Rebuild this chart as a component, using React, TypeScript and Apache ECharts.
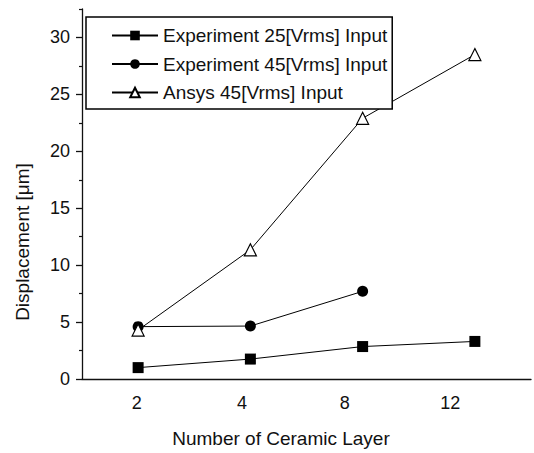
import React, { useEffect, useRef } from 'react';
import * as echarts from 'echarts';

const categories = ['2', '4', '8', '12'];
const seriesNames = ['Experiment 25[Vrms] Input', 'Experiment 45[Vrms] Input', 'Ansys 45[Vrms] Input'];
const exp25 = [1.0, 1.75, 2.85, 3.3];
const exp45 = [4.6, 4.65, 7.7, null];
const ansys45 = [4.3, 11.35, 22.9, 28.5];
const yMajorTicks = [0, 5, 10, 15, 20, 25, 30];
const yMinorTicks = [2.5, 7.5, 12.5, 17.5, 22.5, 27.5, 32.5];
const yMax = 32.5;
const xAxisTitle = 'Number of Ceramic Layer';
const yAxisTitle = 'Displacement [μm]';

const FONT = '"Liberation Sans", Arial, sans-serif';
const INK = '#111';
const labelShift = [3, 17, 36, 49];

export default function App() {
  const ref = useRef<HTMLDivElement>(null);
  useEffect(() => {
    if (!ref.current) return;
    const chart = echarts.init(ref.current, undefined, { renderer: 'svg' });
    const rich: Record<string, any> = {};
    labelShift.forEach((p, i) => {
      rich['s' + i] = { fontSize: 18, fontFamily: FONT, color: INK, padding: [0, p, 0, 0] };
    });
    const lineStyle = { color: '#000', width: 1 };
    chart.setOption({
      animation: false,
      backgroundColor: '#fff',
      textStyle: { fontFamily: FONT, color: INK },
      grid: { left: 82, right: 3, top: 9, bottom: 65 },
      legend: {
        data: seriesNames,
        orient: 'vertical',
        left: 86,
        top: 17,
        itemWidth: 46,
        itemHeight: 12,
        itemGap: 9.5,
        padding: [9, 5, 7, 25],
        backgroundColor: '#fff',
        borderColor: '#000',
        borderWidth: 1.5,
        selectedMode: false,
        textStyle: { fontSize: 19, fontFamily: FONT, color: INK, lineHeight: 19 },
      },
      xAxis: [
        {
          type: 'category',
          data: categories,
          boundaryGap: true,
          axisLine: { lineStyle: { color: INK, width: 1.3 } },
          axisTick: { alignWithLabel: true, length: 8, lineStyle: { color: INK, width: 1.3 } },
          axisLabel: {
            margin: 15,
            fontSize: 18,
            color: INK,
            formatter: (v: string, i: number) => `{s${i}|${v}}`,
            rich,
          },
          name: xAxisTitle,
          nameLocation: 'middle',
          nameGap: 50,
          nameTextStyle: { fontSize: 19, color: INK, fontFamily: FONT, padding: [0, 51, 0, 0] },
        },
        {
          type: 'category',
          data: categories,
          position: 'bottom',
          boundaryGap: true,
          axisLine: { show: false },
          axisTick: { alignWithLabel: false, length: 4, lineStyle: { color: INK, width: 1.2 } },
          axisLabel: { show: false },
        },
      ],
      yAxis: [
        {
          type: 'value',
          min: 0,
          max: yMax,
          axisLine: { show: true, lineStyle: { color: INK, width: 1.3 } },
          axisTick: { show: true, length: 6, customValues: yMajorTicks, lineStyle: { color: INK, width: 1.3 } },
          axisLabel: { customValues: yMajorTicks, margin: 12, fontSize: 18, color: INK },
          splitLine: { show: false },
          name: yAxisTitle,
          nameLocation: 'middle',
          nameGap: 50,
          nameTextStyle: { fontSize: 19, color: INK, fontFamily: FONT, padding: [0, 96, 0, 0] },
        },
        {
          type: 'value',
          min: 0,
          max: yMax,
          position: 'left',
          axisLine: { show: false },
          axisTick: { show: true, length: 3, customValues: yMinorTicks, lineStyle: { color: INK, width: 1.2 } },
          axisLabel: { show: false },
          splitLine: { show: false },
        },
      ],
      series: [
        {
          name: seriesNames[0],
          type: 'line',
          data: exp25,
          symbol: 'rect',
          symbolSize: 11,
          itemStyle: { color: '#000' },
          lineStyle,
        },
        {
          name: seriesNames[1],
          type: 'line',
          data: exp45,
          symbol: 'circle',
          symbolSize: 11,
          itemStyle: { color: '#000' },
          lineStyle,
        },
        {
          name: seriesNames[2],
          type: 'line',
          data: ansys45,
          symbol: 'triangle',
          symbolSize: 12,
          itemStyle: { color: '#fff', borderColor: '#000', borderWidth: 1.2 },
          lineStyle,
        },
      ],
    });
    return () => chart.dispose();
  }, []);
  return (
    <div
      ref={ref}
      style={{ position: 'fixed', left: 0, top: 0, width: 534, height: 453, background: '#fff' }}
    />
  );
}
